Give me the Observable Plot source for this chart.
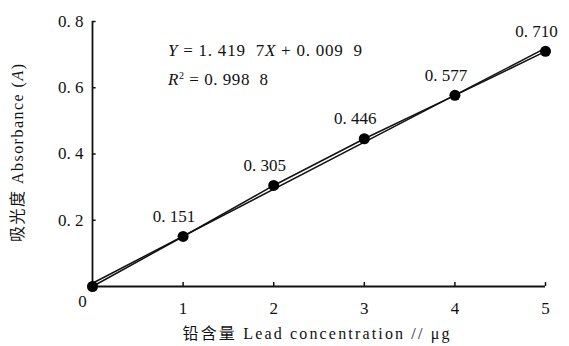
<!DOCTYPE html>
<html><head><meta charset="utf-8">
<script src="https://cdn.jsdelivr.net/npm/d3@7"></script>
<script src="https://cdn.jsdelivr.net/npm/@observablehq/plot@0.6"></script>
<style>
body{margin:0;background:#fff;}
svg text{font-family:"Liberation Serif","Noto Sans CJK SC",serif;}
</style>
</head><body><div id="chart"></div>
<script>
const concentration = [0, 1, 2, 3, 4, 5];
const absorbance = [0.000, 0.151, 0.305, 0.446, 0.577, 0.710];
const pointLabels = ["", "0. 151", "0. 305", "0. 446", "0. 577", "0. 710"];
const xTicks = [1, 2, 3, 4, 5];
const yTicks = [0.2, 0.4, 0.6, 0.8];
const yTickLabels = ["0. 2", "0. 4", "0. 6", "0. 8"];
const equationLine = [{t:"Y", i:true},{t:" = 1. 419  7"},{t:"X", i:true},{t:" + 0. 009  9"}];
const r2Line = [{t:"R", i:true},{t:"2", sup:true},{t:" = 0. 998  8", down:true}];
const yTitle = [{t:"吸光度 Absorbance ("},{t:"A", i:true},{t:")"}];
const xTitle = [{t:"铅含量 Lead concentration // μg"}];

const data = concentration.map((x, i) => ({x, y: absorbance[i], label: pointLabels[i]}));

const font = '"Liberation Serif","Noto Sans CJK SC",serif';
const fs = 17;
const chart = Plot.plot({
  width: 569, height: 346,
  marginLeft: 92, marginRight: 24, marginTop: 21, marginBottom: 60,
  x: {domain: [0, 5]},
  y: {domain: [0, 0.8]},
  style: {fontFamily: font, fontSize: fs + "px", color: "#111"},
  marks: [
    Plot.ruleX([0], {y1: 0, y2: 0.8, stroke: "#111", strokeWidth: 1.8}),
    Plot.ruleY([0], {x1: 0, x2: 5, stroke: "#111", strokeWidth: 1.8}),
    Plot.ruleX(xTicks, {y1: 0, y2: 0.012, stroke: "#111", strokeWidth: 1.5}),
    Plot.ruleY(yTicks, {x1: 0, x2: 0.04, stroke: "#111", strokeWidth: 1.5}),
    Plot.axisX(xTicks, {tickSize: 0, tickPadding: 15, label: null, fontSize: fs}),
    Plot.axisY(yTicks, {tickSize: 0, tickPadding: 9, label: null, fontSize: fs, tickFormat: d => yTickLabels[yTicks.indexOf(d)]}),
    Plot.text(["0"], {x: 0, y: 0, dx: -10, dy: 15, fontSize: fs, text: d => d}),
    Plot.linearRegressionY(data, {x: "x", y: "y", ci: 0, stroke: "#111", strokeWidth: 1.5}),
    Plot.line(data, {x: "x", y: "y", stroke: "#111", strokeWidth: 1.5}),
    Plot.dot(data, {x: "x", y: "y", r: 5.5, fill: "#000"}),
    Plot.text(data, {x: "x", y: "y", text: "label", dx: -9, dy: -20, fontSize: fs})
  ]
});

const svg = d3.select(chart);
function rich(x, y, parts, opts = {}) {
  const t = svg.append("text").attr("x", x).attr("y", y)
    .attr("font-size", opts.size || fs).attr("fill", "#111")
    .attr("text-anchor", opts.anchor || "start")
    .style("white-space", "pre");
  if (opts.rotate) t.attr("transform", `rotate(${opts.rotate},${x},${y})`);
  if (opts.len) t.attr("textLength", opts.len).attr("lengthAdjust", "spacing");
  parts.forEach(p => {
    const s = t.append("tspan").text(p.t);
    if (p.i) s.attr("font-style", "italic");
    if (p.sup) s.attr("dy", -6).attr("font-size", 10);
    if (p.down) s.attr("dy", 6);
  });
  return t;
}
rich(168, 56, equationLine, {len: 194, size: 17});
rich(168, 85, r2Line, {len: 100, size: 17});
rich(23, 153, yTitle, {anchor: "middle", rotate: -90, len: 178, size: 16});
rich(316, 339, xTitle, {anchor: "middle", len: 267, size: 16});
document.getElementById("chart").appendChild(chart);
</script>
</body></html>
